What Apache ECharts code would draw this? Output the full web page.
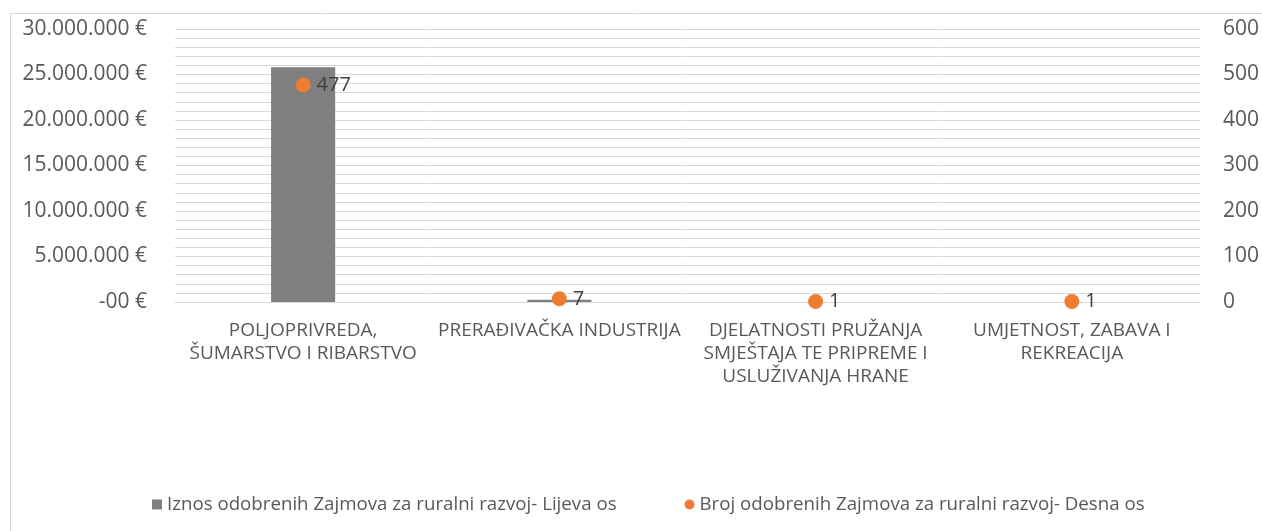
<!DOCTYPE html>
<html>
<head>
<meta charset="utf-8">
<script src="https://cdn.jsdelivr.net/npm/echarts@6/dist/echarts.min.js"></script>
<style>
  html, body { margin: 0; padding: 0; background: #ffffff; }
  #chart { width: 1262px; height: 531px; }
</style>
</head>
<body>
<div id="chart"></div>
<script>
// kategorije (prijelomi redaka kao na slici)
const categories = [
  "POLJOPRIVREDA,\nŠUMARSTVO I RIBARSTVO",
  "PRERAĐIVAČKA INDUSTRIJA",
  "DJELATNOSTI PRUŽANJA\nSMJEŠTAJA TE PRIPREME I\nUSLUŽIVANJA HRANE",
  "UMJETNOST, ZABAVA I\nREKREACIJA"
];
// iznos odobrenih zajmova (lijeva os, €)
const iznosi = [25800000, 250000, 0, 0];
// broj odobrenih zajmova (desna os)
const brojevi = [477, 7, 1, 1];

const seriesNames = [
  "Iznos odobrenih Zajmova za ruralni razvoj- Lijeva os",
  "Broj odobrenih Zajmova za ruralni razvoj- Desna os"
];

const font = "'Open Sans', sans-serif";
const gridColor = "#d9d9d9";

function euro(v) {
  if (v === 0) return "-00 €";
  return String(v).replace(/\B(?=(\d{3})+(?!\d))/g, ".") + " €";
}

const chart = echarts.init(document.getElementById("chart"));
chart.setOption({
  backgroundColor: "#ffffff",
  textStyle: { fontFamily: font },
  graphic: [{
    type: "rect",
    shape: { x: 10.5, y: 13.5, width: 1260, height: 530 },
    style: { fill: "none", stroke: "#d9d9d9", lineWidth: 1 },
    silent: true
  }],
  grid: { left: 175, right: 60, top: 29, bottom: 229 },
  legend: {
    top: 490,
    left: 147,
    itemGap: 68,
    itemWidth: 10,
    itemHeight: 10,
    itemTextGap: 5,
    textStyle: { color: "#595959", fontSize: 18.7, fontFamily: font },
    data: [
      { name: seriesNames[0], icon: "rect" },
      { name: seriesNames[1], icon: "circle" }
    ]
  },
  xAxis: {
    type: "category",
    data: categories,
    axisLine: { show: true, lineStyle: { color: gridColor } },
    axisTick: { show: false },
    axisLabel: {
      interval: 0,
      color: "#595959",
      fontSize: 19,
      lineHeight: 23,
      margin: 17,
      fontFamily: font
    }
  },
  yAxis: [
    {
      type: "value",
      min: 0,
      max: 30000000,
      interval: 5000000,
      axisLine: { show: false },
      axisTick: { show: false },
      axisLabel: {
        color: "#595959",
        fontSize: 21,
        margin: 28,
        fontFamily: font,
        formatter: euro
      },
      splitLine: { show: true, lineStyle: { color: gridColor } },
      minorTick: { show: false, splitNumber: 5 },
      minorSplitLine: { show: true, lineStyle: { color: gridColor } }
    },
    {
      type: "value",
      min: 0,
      max: 600,
      interval: 100,
      position: "right",
      axisLine: { show: false },
      axisTick: { show: false },
      axisLabel: { color: "#595959", fontSize: 21, margin: 23, fontFamily: font },
      splitLine: { show: false }
    }
  ],
  series: [
    {
      name: seriesNames[0],
      type: "bar",
      yAxisIndex: 0,
      barWidth: "25%",
      data: iznosi,
      itemStyle: { color: "#7f7f7f" }
    },
    {
      name: seriesNames[1],
      type: "scatter",
      yAxisIndex: 1,
      symbol: "circle",
      symbolSize: 15,
      data: brojevi,
      itemStyle: { color: "#ed7d31", opacity: 1 },
      label: {
        show: true,
        position: "right",
        distance: 6,
        color: "#404040",
        fontSize: 20,
        fontFamily: font
      },
      z: 5
    }
  ]
});
</script>
</body>
</html>
